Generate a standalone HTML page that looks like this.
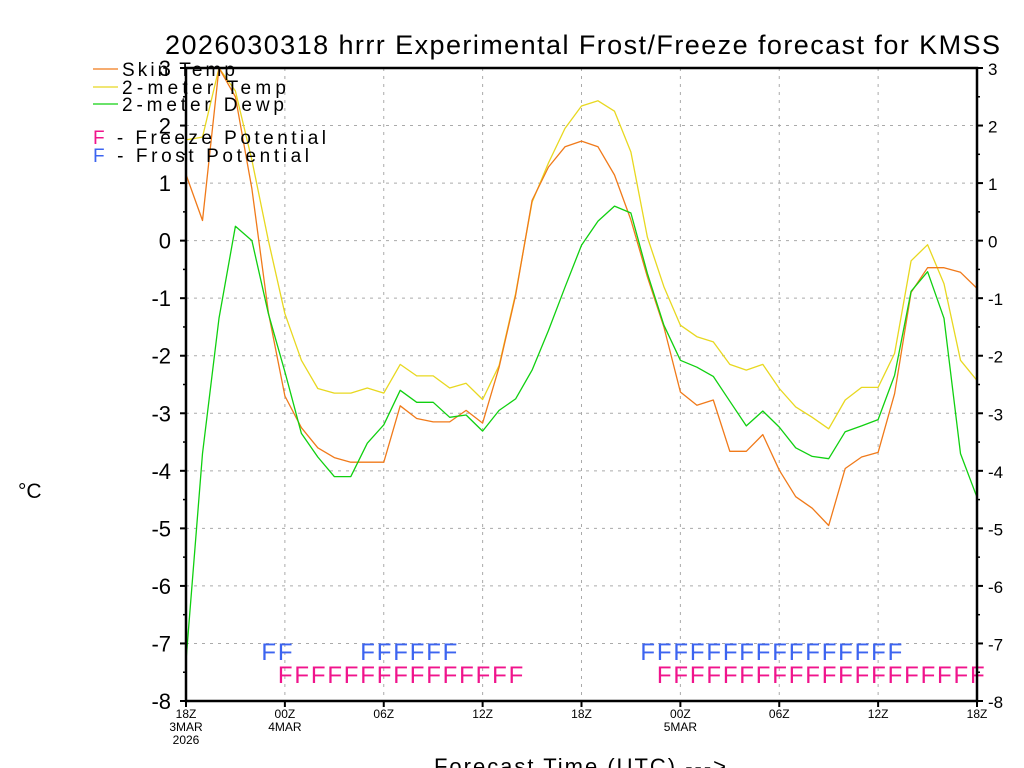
<!DOCTYPE html>
<html><head><meta charset="utf-8"><style>
html,body{margin:0;padding:0;background:#fff;}
svg{display:block;font-family:"Liberation Sans",sans-serif;}
</style></head><body>
<svg id="chart" width="1024" height="768" viewBox="0 0 1024 768" xmlns="http://www.w3.org/2000/svg">
<g id="grid"></g>
<g id="series"></g>
<g id="flags"></g>
<rect x="186" y="68" width="791" height="633" fill="none" stroke="#000" stroke-width="2.5"/>
<g id="axes"></g>
<text x="165" y="54" font-size="27" textLength="835" lengthAdjust="spacing" fill="#000">2026030318 hrrr Experimental Frost/Freeze forecast for KMSS</text>
<text x="18" y="498" font-size="21" fill="#000">°C</text>
<text x="434" y="774" font-size="22" textLength="292" lengthAdjust="spacing" fill="#000">Forecast Time (UTC) ---&gt;</text>
<g font-size="19" fill="#000">
<line x1="93" y1="69" x2="118" y2="69" stroke="#f07a1a" stroke-width="1.3"/>
<text x="122" y="76" textLength="113" lengthAdjust="spacing">Skin Temp</text>
<line x1="93" y1="87" x2="118" y2="87" stroke="#e8d820" stroke-width="1.3"/>
<text x="122" y="94" textLength="164" lengthAdjust="spacing">2-meter Temp</text>
<line x1="93" y1="104" x2="118" y2="104" stroke="#10d010" stroke-width="1.3"/>
<text x="122" y="111" textLength="162" lengthAdjust="spacing">2-meter Dewp</text>
<text x="93" y="144" textLength="233" lengthAdjust="spacing"><tspan fill="#f0148c">F</tspan> - Freeze Potential</text>
<text x="93" y="162" textLength="216" lengthAdjust="spacing"><tspan fill="#3c64f0">F</tspan> - Frost Potential</text>
</g>
</svg>
<script>
const hours = [0,1,2,3,4,5,6,7,8,9,10,11,12,13,14,15,16,17,18,19,20,21,22,23,24,25,26,27,28,29,30,31,32,33,34,35,36,37,38,39,40,41,42,43,44,45,46,47,48];
const skinTemp = [1.15,0.35,3.3,2.5,0.9,-1.25,-2.7,-3.25,-3.6,-3.77,-3.85,-3.85,-3.85,-2.87,-3.09,-3.15,-3.15,-2.95,-3.17,-2.2,-0.95,0.7,1.28,1.63,1.73,1.63,1.14,0.36,-0.63,-1.5,-2.63,-2.86,-2.77,-3.66,-3.66,-3.37,-3.99,-4.45,-4.65,-4.95,-3.96,-3.76,-3.68,-2.66,-0.9,-0.47,-0.47,-0.55,-0.83];
const airTemp = [1.75,1.8,3.2,2.6,1.4,0.0,-1.27,-2.08,-2.57,-2.65,-2.65,-2.56,-2.65,-2.15,-2.35,-2.35,-2.56,-2.48,-2.76,-2.17,-0.92,0.67,1.35,1.95,2.34,2.43,2.25,1.54,0.06,-0.8,-1.47,-1.67,-1.76,-2.15,-2.25,-2.15,-2.57,-2.89,-3.07,-3.27,-2.77,-2.55,-2.55,-1.96,-0.35,-0.07,-0.75,-2.08,-2.43];
const dewPoint = [-7.3,-3.7,-1.35,0.25,0.0,-1.27,-2.28,-3.35,-3.76,-4.1,-4.1,-3.52,-3.2,-2.6,-2.81,-2.81,-3.07,-3.03,-3.31,-2.95,-2.75,-2.25,-1.56,-0.81,-0.08,0.34,0.6,0.48,-0.57,-1.47,-2.08,-2.2,-2.36,-2.79,-3.22,-2.96,-3.24,-3.6,-3.75,-3.79,-3.32,-3.22,-3.11,-2.34,-0.88,-0.54,-1.35,-3.7,-4.46];
const frostHours = [5,6,11,12,13,14,15,16,28,29,30,31,32,33,34,35,36,37,38,39,40,41,42,43];
const freezeHours = [6,7,8,9,10,11,12,13,14,15,16,17,18,19,20,29,30,31,32,33,34,35,36,37,38,39,40,41,42,43,44,45,46,47,48];
const yTicks = [3,2,1,0,-1,-2,-3,-4,-5,-6,-7,-8];
const xTickHours = [0,6,12,18,24,30,36,42,48];
const xTickLabels = ["18Z","00Z","06Z","12Z","18Z","00Z","06Z","12Z","18Z"];
const xDateLabels = [["3MAR","2026"],["4MAR"],[],[],[],["5MAR"],[],[],[]];

const NS="http://www.w3.org/2000/svg";
const X0=186,X1=977,Y0=68,Y1=701,VMAX=3,VMIN=-8,HMAX=48;
function xs(h){return X0+(X1-X0)*h/HMAX;}
function ys(v){return Y1-(Y1-Y0)*(v-VMIN)/(VMAX-VMIN);}
function mk(tag,attrs,parent){const e=document.createElementNS(NS,tag);for(const k in attrs)e.setAttribute(k,attrs[k]);parent.appendChild(e);return e;}
const grid=document.getElementById('grid'),axes=document.getElementById('axes'),series=document.getElementById('series'),flags=document.getElementById('flags');

yTicks.forEach(v=>{
  const y=ys(v);
  const g=mk('line',{x1:X0,x2:X1,y1:y,y2:y,stroke:'#aaa','stroke-width':1,'stroke-dasharray':'3,5'},grid);
  
  
  const t1=mk('line',{x1:X0-6,x2:X0,y1:y,y2:y,stroke:'#000','stroke-width':2},axes);
  
  
  const t2=mk('line',{x1:X1,x2:X1+6,y1:y,y2:y,stroke:'#000','stroke-width':2},axes);
  
  
  const l=mk('text',{x:X0-15,y:y+8,'font-size':22,'text-anchor':'end',fill:'#000'},axes);
  l.textContent=v;
  
  
  const r=mk('text',{x:X1+11,y:y+7,'font-size':17,fill:'#000'},axes);
  r.textContent=v;
  
  
});
for(let v=VMIN;v<VMAX;v++){
  const y=ys(v+0.5);
  const t=mk('line',{x1:X0-3,x2:X0,y1:y,y2:y,stroke:'#000','stroke-width':1.5},axes);
  
  
  const t2=mk('line',{x1:X1,x2:X1+3,y1:y,y2:y,stroke:'#000','stroke-width':1.5},axes);
  
  
}
xTickHours.forEach((h,i)=>{
  const x=xs(h);
  if(i>0&&i<xTickHours.length-1){
    const g=mk('line',{x1:x,x2:x,y1:Y0,y2:Y1,stroke:'#aaa','stroke-width':1,'stroke-dasharray':'3,5'},grid);
    
    
  }
  const t=mk('line',{x1:x,x2:x,y1:Y1,y2:Y1+6,stroke:'#000','stroke-width':2},axes);
  
  
  const l=mk('text',{x:x,y:Y1+17,'font-size':12,'text-anchor':'middle',fill:'#000'},axes);
  l.textContent=xTickLabels[i];
  
  
  xDateLabels[i].forEach((s,j)=>{
    const d=mk('text',{x:x,y:Y1+30+j*13,'font-size':12,'text-anchor':'middle',fill:'#000'},axes);
    d.textContent=s;
    
    
  });
});
function clip(v){return Math.max(VMIN,Math.min(VMAX,v));}
function line(data,color,name){
  const pts=data.map((v,i)=>xs(hours[i]).toFixed(1)+','+ys(clip(v)).toFixed(1)).join(' ');
  const p=mk('polyline',{points:pts,fill:'none',stroke:color,'stroke-width':1.3,'stroke-linejoin':'round'},series);
  
  
}
line(airTemp,'#e8d820','temp-2m-line');
line(skinTemp,'#f07a1a','skin-temp-line');
line(dewPoint,'#10d010','dewpoint-line');
frostHours.forEach(h=>{
  const t=mk('text',{x:xs(h)-7,y:660,'font-size':24,fill:'#3c64f0'},flags);
  t.textContent='F';
  
  
});
freezeHours.forEach(h=>{
  const t=mk('text',{x:xs(h)-7,y:683,'font-size':24,fill:'#f0148c'},flags);
  t.textContent='F';
  
  
});
</script>
</body></html>
